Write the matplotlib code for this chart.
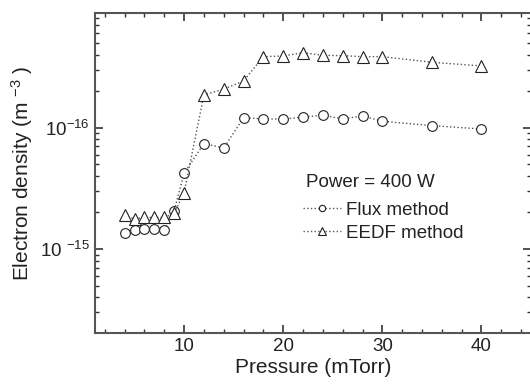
import matplotlib
matplotlib.use("Agg")
import matplotlib.pyplot as plt
from matplotlib.ticker import LogLocator, FixedLocator, MultipleLocator, NullFormatter

plt.rcParams['font.family'] = ['Liberation Sans', 'DejaVu Sans']
plt.rcParams['mathtext.default'] = 'regular'

pressure = [4, 5, 6, 7, 8, 9, 10, 12, 14, 16, 18, 20, 22, 24, 26, 28, 30, 35, 40]
flux = [1.36e15, 1.43e15, 1.46e15, 1.46e15, 1.43e15, 2.07e15, 4.2e15, 7.4e15, 6.8e15,
        1.21e16, 1.18e16, 1.18e16, 1.22e16, 1.27e16, 1.18e16, 1.25e16, 1.13e16, 1.04e16, 0.975e16]
eedf = [1.9e15, 1.77e15, 1.82e15, 1.82e15, 1.82e15, 1.97e15, 2.91e15, 1.86e16, 2.08e16,
        2.43e16, 3.85e16, 3.9e16, 4.15e16, 3.95e16, 3.92e16, 3.85e16, 3.85e16, 3.46e16, 3.23e16]

ytick_vals = [1e15, 1e16]
ytick_labels = ['10 $^{-15}$', '10$^{-16}$']
xtick_vals = [10, 20, 30, 40]
legend_title = 'Power = 400 W'

fig = plt.figure(figsize=(5.3, 3.85), dpi=100)
ax = fig.add_axes([0.179, 0.135, 0.823, 0.831])

ax.plot(pressure, flux, linestyle=':', color='#555555', lw=1.0, marker='o', ms=7,
        mfc='white', mec='#222222', mew=0.8, label='Flux method')
ax.plot(pressure, eedf, linestyle=':', color='#555555', lw=1.0, marker='^', ms=8,
        mfc='white', mec='#222222', mew=0.8, label='EEDF method')

ax.set_yscale('log')
ax.set_xlim(1, 45)
ax.set_ylim(2.03e14, 8.8e16)

ax.xaxis.set_major_locator(FixedLocator(xtick_vals))
ax.xaxis.set_minor_locator(MultipleLocator(2))
ax.yaxis.set_major_locator(FixedLocator(ytick_vals))
ax.set_yticklabels(ytick_labels)
ax.yaxis.set_minor_locator(LogLocator(base=10, subs=[2, 3, 4, 5, 6, 7, 8, 9]))
ax.yaxis.set_minor_formatter(NullFormatter())

ax.tick_params(which='both', direction='in', top=True, right=True, colors='#333333',
               labelcolor='#222222', labelsize=13.5)
ax.tick_params(which='major', length=6, width=1.2)
ax.tick_params(which='minor', length=3, width=1.0)

for s in ax.spines.values():
    s.set_color('#555555')
    s.set_linewidth(1.5)

ax.set_xlabel('Pressure (mTorr)', fontsize=15, color='#222222', labelpad=2)
ax.set_ylabel('Electron density (m $^{-3}$ )', fontsize=15, color='#222222', labelpad=4)

ax.text(0.483, 0.472, legend_title, transform=ax.transAxes, fontsize=13.5,
        color='#222222', ha='left', va='center')

leg = ax.legend(loc='upper left', bbox_to_anchor=(0.439, 0.463),
                frameon=False, fontsize=13.5, handlelength=2.0,
                handletextpad=0.3, labelspacing=0.32, markerscale=0.65)
for t in leg.get_texts():
    t.set_color('#222222')

fig.savefig('out.png', dpi=100)
